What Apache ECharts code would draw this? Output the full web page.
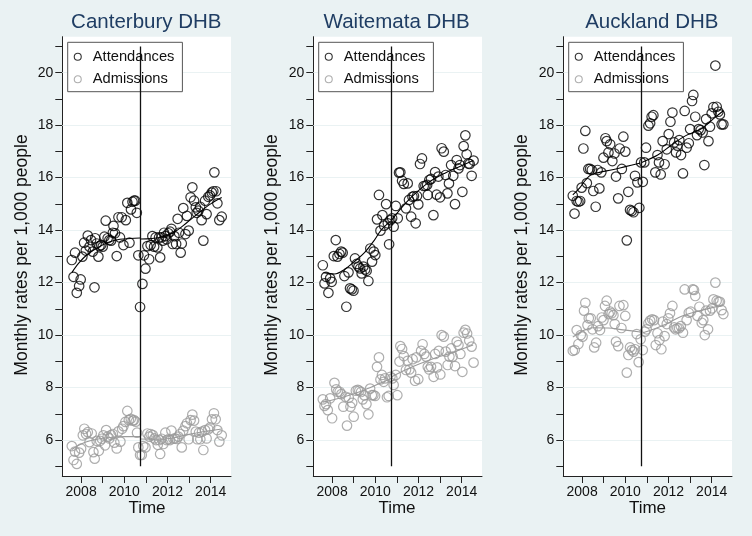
<!DOCTYPE html>
<html>
<head>
<meta charset="utf-8">
<script src="https://cdn.jsdelivr.net/npm/echarts@6/dist/echarts.min.js"></script>
<style>
html,body{margin:0;padding:0;background:#eaf2f3;}
#chart{width:752px;height:536px;}
</style>
</head>
<body>
<div id="chart"></div>
<script>
// ---------------- data ----------------
const panelTitles = ['Canterbury DHB', 'Waitemata DHB', 'Auckland DHB'];
const seriesNames = ['Attendances', 'Admissions'];
const interventionTime = 2010.75;
const xTickValues = [2008, 2009, 2010, 2011, 2012, 2013, 2014];
const xLabelValues = [2008, 2010, 2012, 2014];
const yTickValues = [5, 6, 7, 8, 9, 10, 11, 12, 13, 14, 15, 16, 17, 18, 19, 20, 21];
const yLabelValues = [6, 8, 10, 12, 14, 16, 18, 20];
const yAxisTitle = 'Monthly rates per 1,000 people';
const xAxisTitle = 'Time';

// Canterbury
const cantAtt = [[2007.57,12.86],[2007.72,13.14],[2007.65,12.22],[2007.80,11.61],[2007.91,11.87],[2007.98,12.12],[2008.06,12.99],[2008.14,13.52],[2008.22,13.22],[2008.31,13.79],[2008.39,13.37],[2008.46,13.62],[2008.54,13.18],[2008.62,11.82],[2008.65,13.69],[2008.72,13.49],[2008.80,12.99],[2008.85,13.39],[2008.93,13.43],[2009.00,13.37],[2009.08,13.75],[2009.14,14.36],[2009.23,13.69],[2009.31,13.62],[2009.39,13.60],[2009.47,13.90],[2009.50,14.16],[2009.57,13.88],[2009.65,13.01],[2009.73,14.49],[2009.80,13.72],[2009.88,14.49],[2009.96,13.43],[2010.07,14.38],[2010.14,15.04],[2010.24,13.52],[2010.31,14.79],[2010.38,15.08],[2010.45,15.12],[2010.51,15.12],[2010.58,14.66],[2010.65,13.04],[2010.73,11.07],[2010.84,11.95],[2010.91,13.04],[2010.98,12.53],[2011.07,13.39],[2011.15,12.89],[2011.22,13.43],[2011.30,13.77],[2011.38,13.37],[2011.45,13.72],[2011.53,13.34],[2011.61,13.72],[2011.66,12.96],[2011.72,13.72],[2011.78,13.60],[2011.84,13.90],[2011.90,13.77],[2011.96,13.65],[2012.04,13.88],[2012.12,13.94],[2012.18,14.05],[2012.24,13.47],[2012.32,13.77],[2012.40,13.47],[2012.47,14.43],[2012.53,13.90],[2012.61,13.14],[2012.66,13.49],[2012.73,14.84],[2012.83,13.85],[2012.90,14.54],[2012.98,13.98],[2013.07,15.25],[2013.15,15.63],[2013.23,15.12],[2013.31,14.87],[2013.35,14.66],[2013.43,14.74],[2013.51,14.89],[2013.58,14.38],[2013.66,13.60],[2013.74,15.12],[2013.81,14.61],[2013.89,15.27],[2013.97,15.32],[2014.05,15.43],[2014.12,15.48],[2014.17,16.20],[2014.25,15.48],[2014.31,15.02],[2014.40,14.38],[2014.51,14.51]];
const cantAdm = [[2007.57,5.77],[2007.65,5.24],[2007.72,5.56],[2007.80,5.09],[2007.91,5.52],[2008.00,5.67],[2008.08,6.18],[2008.15,6.43],[2008.23,6.23],[2008.31,6.30],[2008.39,5.92],[2008.49,6.25],[2008.57,5.54],[2008.63,5.29],[2008.72,5.97],[2008.82,5.59],[2008.88,5.97],[2008.96,6.05],[2009.03,6.18],[2009.11,5.80],[2009.16,6.38],[2009.23,6.13],[2009.31,6.06],[2009.39,6.19],[2009.47,6.23],[2009.54,5.90],[2009.65,5.68],[2009.73,6.33],[2009.82,5.94],[2009.90,6.43],[2009.96,6.53],[2010.05,6.69],[2010.14,7.11],[2010.21,6.76],[2010.30,6.81],[2010.39,6.74],[2010.45,6.76],[2010.53,6.70],[2010.59,6.28],[2010.65,5.72],[2010.73,5.43],[2010.81,5.43],[2010.88,5.77],[2010.98,5.72],[2011.07,6.25],[2011.16,6.13],[2011.22,6.23],[2011.32,6.19],[2011.39,6.06],[2011.47,6.00],[2011.55,5.82],[2011.62,6.00],[2011.66,5.47],[2011.73,6.05],[2011.81,5.85],[2011.90,6.28],[2011.96,6.00],[2012.04,6.03],[2012.12,6.00],[2012.18,6.36],[2012.27,6.05],[2012.35,6.06],[2012.43,6.04],[2012.50,6.13],[2012.58,6.23],[2012.66,5.72],[2012.73,6.36],[2012.83,6.53],[2012.90,6.64],[2012.98,6.03],[2013.07,6.76],[2013.15,6.97],[2013.23,6.74],[2013.31,6.32],[2013.38,6.03],[2013.46,6.28],[2013.52,6.03],[2013.60,6.32],[2013.66,5.62],[2013.74,6.38],[2013.81,6.06],[2013.89,6.41],[2013.97,6.48],[2014.06,6.79],[2014.15,7.02],[2014.23,6.79],[2014.31,6.38],[2014.40,5.94],[2014.51,6.18]];
const cantAttFitPre = [[2007.57,12.38],[2007.9,12.75],[2008.3,13.08],[2008.8,13.35],[2009.3,13.55],[2009.8,13.65],[2010.3,13.68],[2010.73,13.70]];
const cantAttFitPost = [[2010.75,13.66],[2011.66,13.72],[2012.27,13.90],[2012.89,14.28],[2013.51,14.70],[2014.0,15.0],[2014.51,15.24]];
const cantAdmFitPre = [[2007.57,5.64],[2008.0,5.85],[2008.5,5.99],[2009.0,6.07],[2009.5,6.11],[2010.0,6.13],[2010.73,6.13]];
const cantAdmFitPost = [[2010.75,6.04],[2011.5,6.03],[2012.2,6.07],[2012.8,6.18],[2013.5,6.30],[2014.51,6.42]];

// Waitemata
const waitAtt = [[2007.57,12.66],[2007.65,11.97],[2007.72,12.22],[2007.83,11.61],[2007.91,12.16],[2007.98,12.03],[2008.08,13.01],[2008.17,13.62],[2008.25,12.99],[2008.34,13.09],[2008.42,13.18],[2008.49,13.14],[2008.57,12.25],[2008.66,11.08],[2008.76,12.39],[2008.83,11.78],[2008.91,11.74],[2008.99,11.69],[2009.06,12.92],[2009.14,12.71],[2009.22,12.61],[2009.30,12.54],[2009.37,12.35],[2009.45,12.61],[2009.53,12.50],[2009.60,12.45],[2009.68,12.06],[2009.77,13.30],[2009.85,12.80],[2009.93,13.18],[2010.00,13.05],[2010.08,14.41],[2010.17,15.34],[2010.24,13.98],[2010.33,14.57],[2010.41,14.17],[2010.50,14.99],[2010.58,14.26],[2010.64,13.46],[2010.70,14.38],[2010.78,14.45],[2010.85,14.13],[2010.95,14.92],[2011.04,14.45],[2011.10,16.19],[2011.16,16.20],[2011.24,15.88],[2011.32,15.76],[2011.42,14.83],[2011.50,15.78],[2011.56,15.15],[2011.66,14.51],[2011.72,15.27],[2011.79,15.30],[2011.87,14.26],[2011.93,15.30],[2011.99,14.98],[2012.07,16.52],[2012.16,16.73],[2012.24,15.68],[2012.32,15.69],[2012.40,15.72],[2012.43,15.34],[2012.50,15.91],[2012.58,15.95],[2012.69,14.57],[2012.77,16.21],[2012.84,15.35],[2012.92,16.04],[2013.00,15.25],[2013.07,17.12],[2013.17,16.99],[2013.26,16.10],[2013.34,15.40],[2013.41,15.78],[2013.51,16.48],[2013.61,16.07],[2013.69,14.99],[2013.77,16.67],[2013.85,16.35],[2013.92,16.48],[2014.03,15.46],[2014.09,17.20],[2014.17,17.61],[2014.23,16.89],[2014.31,16.54],[2014.37,16.52],[2014.46,16.07],[2014.55,16.65]];
const waitAdm = [[2007.57,7.55],[2007.65,7.30],[2007.72,7.37],[2007.80,7.14],[2007.91,7.59],[2008.00,6.83],[2008.11,8.18],[2008.19,7.93],[2008.26,7.84],[2008.35,7.84],[2008.43,7.75],[2008.52,7.27],[2008.62,7.65],[2008.69,6.55],[2008.77,7.61],[2008.85,7.27],[2008.93,7.42],[2009.00,6.89],[2009.10,7.88],[2009.19,7.91],[2009.26,7.88],[2009.34,7.83],[2009.42,7.55],[2009.50,7.70],[2009.59,7.37],[2009.68,6.98],[2009.76,7.96],[2009.84,7.71],[2009.91,7.71],[2009.99,7.68],[2010.08,8.79],[2010.17,9.15],[2010.24,8.31],[2010.31,8.48],[2010.39,8.22],[2010.45,8.35],[2010.54,7.63],[2010.62,7.68],[2010.70,8.41],[2010.79,8.35],[2010.85,8.10],[2010.95,8.48],[2011.02,7.71],[2011.12,8.99],[2011.16,9.58],[2011.24,9.47],[2011.32,9.20],[2011.42,8.67],[2011.50,9.02],[2011.58,8.69],[2011.66,8.57],[2011.73,9.08],[2011.84,8.26],[2011.90,9.15],[2011.99,8.32],[2012.12,9.40],[2012.19,9.65],[2012.27,9.28],[2012.36,9.18],[2012.43,8.79],[2012.50,8.69],[2012.58,8.79],[2012.70,8.41],[2012.77,9.28],[2012.86,8.77],[2012.94,9.40],[2013.01,8.50],[2013.07,10.00],[2013.17,9.94],[2013.26,9.37],[2013.35,8.86],[2013.43,9.18],[2013.51,9.49],[2013.58,9.18],[2013.69,8.82],[2013.77,9.75],[2013.85,9.62],[2013.94,9.28],[2014.03,8.60],[2014.09,10.09],[2014.17,10.20],[2014.25,10.06],[2014.35,9.79],[2014.46,9.56],[2014.55,8.95]];
const waitAttFitPre = [[2007.60,12.38],[2008.11,12.33],[2008.57,12.50],[2009.03,12.80],[2009.50,13.14],[2009.96,13.62],[2010.27,14.00],[2010.72,14.35]];
const waitAttFitPost = [[2010.76,14.38],[2011.19,14.83],[2011.66,15.25],[2012.12,15.59],[2012.58,15.88],[2013.20,16.16],[2013.81,16.39],[2014.53,16.65]];
const waitAdmFitPre = [[2007.57,7.44],[2008.57,7.65],[2009.50,7.91],[2010.27,8.18],[2010.72,8.35]];
const waitAdmFitPost = [[2010.76,8.41],[2011.66,8.77],[2012.58,9.07],[2013.51,9.32],[2014.53,9.62]];

// Auckland
const aucAtt = [[2007.57,15.31],[2007.65,14.63],[2007.75,15.11],[2007.83,15.08],[2007.91,15.11],[2007.98,15.62],[2008.06,17.11],[2008.15,17.78],[2008.22,15.79],[2008.29,16.33],[2008.37,16.33],[2008.45,16.29],[2008.52,15.49],[2008.63,14.89],[2008.72,16.29],[2008.80,15.59],[2008.89,16.20],[2008.99,16.76],[2009.08,17.50],[2009.14,17.39],[2009.22,16.96],[2009.30,17.27],[2009.40,16.63],[2009.50,16.92],[2009.57,16.04],[2009.67,15.21],[2009.74,17.11],[2009.84,16.33],[2009.91,17.56],[2010.00,16.99],[2010.07,13.61],[2010.14,15.46],[2010.22,14.77],[2010.30,14.73],[2010.38,14.68],[2010.45,16.07],[2010.56,15.82],[2010.65,14.85],[2010.73,16.58],[2010.81,15.84],[2010.88,16.58],[2010.96,17.14],[2011.07,17.98],[2011.15,18.07],[2011.22,18.32],[2011.30,18.38],[2011.39,16.20],[2011.49,16.86],[2011.56,16.58],[2011.64,16.12],[2011.73,17.39],[2011.82,16.51],[2011.92,17.08],[2012.01,17.66],[2012.09,18.13],[2012.18,18.48],[2012.26,17.34],[2012.35,16.96],[2012.41,17.22],[2012.50,17.43],[2012.58,16.86],[2012.67,16.16],[2012.75,18.54],[2012.84,17.14],[2012.94,17.31],[2013.00,17.85],[2013.09,18.92],[2013.15,19.15],[2013.24,18.32],[2013.32,17.62],[2013.40,17.85],[2013.49,17.81],[2013.58,17.72],[2013.66,16.48],[2013.74,18.23],[2013.85,17.39],[2013.92,17.94],[2014.00,18.45],[2014.08,18.69],[2014.17,20.27],[2014.23,18.70],[2014.31,18.51],[2014.38,18.41],[2014.46,18.03],[2014.54,18.03]];
const aucAdm = [[2007.57,9.40],[2007.66,9.43],[2007.75,10.19],[2007.83,9.66],[2007.94,10.00],[2008.02,9.94],[2008.09,10.93],[2008.15,11.23],[2008.25,10.38],[2008.31,10.64],[2008.40,10.64],[2008.48,10.22],[2008.56,9.53],[2008.65,9.71],[2008.74,10.34],[2008.83,10.19],[2008.91,10.67],[2008.99,10.57],[2009.06,11.11],[2009.14,11.31],[2009.23,10.80],[2009.30,10.89],[2009.37,10.83],[2009.45,10.76],[2009.51,10.42],[2009.57,9.75],[2009.67,9.58],[2009.73,11.11],[2009.82,10.27],[2009.91,11.14],[2010.00,10.73],[2010.07,8.57],[2010.14,9.24],[2010.22,9.53],[2010.30,9.43],[2010.38,9.37],[2010.45,9.46],[2010.53,10.04],[2010.62,8.97],[2010.71,9.84],[2010.81,9.43],[2010.91,10.13],[2010.99,10.22],[2011.07,10.45],[2011.15,10.55],[2011.24,10.60],[2011.33,10.57],[2011.41,9.62],[2011.49,10.07],[2011.58,9.81],[2011.67,9.46],[2011.73,10.51],[2011.82,9.96],[2011.92,10.42],[2011.99,10.64],[2012.07,10.83],[2012.18,11.11],[2012.26,10.29],[2012.33,10.22],[2012.41,10.26],[2012.49,10.26],[2012.57,10.34],[2012.67,10.09],[2012.75,11.74],[2012.84,10.57],[2012.94,10.85],[2013.03,10.89],[2013.12,11.74],[2013.18,11.72],[2013.24,11.49],[2013.34,10.73],[2013.43,11.08],[2013.54,10.47],[2013.61,10.57],[2013.68,10.00],[2013.74,10.93],[2013.83,10.22],[2013.92,10.93],[2014.02,11.02],[2014.08,11.36],[2014.17,12.00],[2014.23,11.31],[2014.32,11.27],[2014.38,11.27],[2014.46,10.95],[2014.54,10.80]];
const aucAttFitPre = [[2007.57,15.34],[2007.9,15.62],[2008.15,15.90],[2008.4,16.10],[2008.8,16.20],[2009.4,16.30],[2010.0,16.42],[2010.7,16.56]];
const aucAttFitPost = [[2010.76,16.58],[2011.5,16.86],[2012.2,17.28],[2012.8,17.60],[2013.5,17.85],[2014.1,18.26],[2014.54,18.55]];
const aucAdmFitPre = [[2007.57,9.92],[2008.0,10.15],[2008.5,10.28],[2009.2,10.27],[2009.9,10.20],[2010.7,10.12]];
const aucAdmFitPost = [[2010.76,10.07],[2011.3,10.22],[2011.9,10.42],[2012.5,10.68],[2013.1,10.85],[2013.7,10.98],[2014.54,11.15]];

// ---------------- layout / style ----------------
const FONT = "'Liberation Sans', Arial, Helvetica, sans-serif";
const BG = '#eaf2f3';
const ATT_COLOR = '#000000';
const ADM_COLOR = '#9a9a9a';
const gridLefts = [62.3, 313.3, 563.3];
const titleX = [146.3, 396.7, 651.8];
const timeX = [147, 397, 647.5];
const yNameX = [21.7, 271.7, 521.7];
const GRID_TOP = 36.7, GRID_H = 439.3, GRID_W = 168.7;
const X_MIN = 2007.13, X_MAX = 2014.94, Y_MIN = 4.63, Y_MAX = 21.37;

const panels = [
  {att: cantAtt, adm: cantAdm, attPre: cantAttFitPre, attPost: cantAttFitPost, admPre: cantAdmFitPre, admPost: cantAdmFitPost},
  {att: waitAtt, adm: waitAdm, attPre: waitAttFitPre, attPost: waitAttFitPost, admPre: waitAdmFitPre, admPost: waitAdmFitPost},
  {att: aucAtt, adm: aucAdm, attPre: aucAttFitPre, attPost: aucAttFitPost, admPre: aucAdmFitPre, admPost: aucAdmFitPost}
];

const grid = [], xAxis = [], yAxis = [], series = [], legend = [], graphic = [];
const axisLine = {show: true, onZero: false, lineStyle: {color: '#222', width: 1}};
const axisLabelStyle = {color: '#111', fontSize: 14, fontFamily: FONT};

panels.forEach((p, i) => {
  grid.push({left: gridLefts[i], top: GRID_TOP, width: GRID_W, height: GRID_H,
    show: true, backgroundColor: '#ffffff', borderWidth: 0, containLabel: false, outerBoundsMode: 'none'});
  xAxis.push({type: 'value', gridIndex: i, min: X_MIN, max: X_MAX,
    axisLine: axisLine,
    axisTick: {show: true, inside: false, length: 7, lineStyle: {color: '#222', width: 1}, customValues: xTickValues},
    axisLabel: Object.assign({show: true, margin: 9, customValues: xLabelValues, formatter: v => String(Math.round(v))}, axisLabelStyle),
    splitLine: {show: false}, minorTick: {show: false}});
  yAxis.push({type: 'value', gridIndex: i, min: Y_MIN, max: Y_MAX,
    axisLine: axisLine,
    axisTick: {show: true, inside: false, length: 7, lineStyle: {color: '#222', width: 1}, customValues: yTickValues},
    axisLabel: Object.assign({show: true, margin: 9, customValues: yLabelValues, formatter: v => String(Math.round(v))}, axisLabelStyle),
    splitLine: {show: false}, minorTick: {show: false}});

  // Admissions scatter (carries the horizontal grid lines)
  series.push({name: seriesNames[1], type: 'scatter', xAxisIndex: i, yAxisIndex: i,
    data: p.adm, symbol: 'circle', symbolSize: 9.5, z: 2, silent: true,
    itemStyle: {color: 'rgba(0,0,0,0)', borderColor: ADM_COLOR, borderWidth: 1.2},
    emphasis: {disabled: true},
    markLine: {silent: true, symbol: ['none', 'none'], z: 1, animation: false,
      label: {show: false},
      lineStyle: {color: BG, width: 1.2, type: 'solid'},
      emphasis: {disabled: true},
      data: yLabelValues.map(v => ({yAxis: v}))}
  });
  // Attendances scatter (carries the intervention line)
  series.push({name: seriesNames[0], type: 'scatter', xAxisIndex: i, yAxisIndex: i,
    data: p.att, symbol: 'circle', symbolSize: 9.5, z: 2, silent: true,
    itemStyle: {color: 'rgba(0,0,0,0)', borderColor: ATT_COLOR, borderWidth: 1.2},
    emphasis: {disabled: true},
    markLine: {silent: true, symbol: ['none', 'none'], z: 4, animation: false,
      label: {show: false},
      lineStyle: {color: '#111', width: 1.3, type: 'solid'},
      emphasis: {disabled: true},
      data: [[{coord: [interventionTime, 5]}, {coord: [interventionTime, 21]}]]}
  });
  const fit = (name, data, color) => ({name, type: 'line', xAxisIndex: i, yAxisIndex: i, data,
    smooth: 0.35, showSymbol: false, symbol: 'none', z: 3, silent: true,
    lineStyle: {color, width: 1.1}, emphasis: {disabled: true}});
  series.push(fit('admFitPre' + i, p.admPre, ADM_COLOR));
  series.push(fit('admFitPost' + i, p.admPost, ADM_COLOR));
  series.push(fit('attFitPre' + i, p.attPre, ATT_COLOR));
  series.push(fit('attFitPost' + i, p.attPost, ATT_COLOR));

  legend.push({show: true, orient: 'vertical', left: gridLefts[i] + 5.4, top: 42.3,
    selectedMode: false, backgroundColor: '#ffffff', borderColor: '#555', borderWidth: 1,
    borderRadius: 0, padding: [6.4, 8, 4.4, 6], itemGap: 6.6, itemWidth: 20, itemHeight: 7,
    icon: 'circle',
    textStyle: {color: '#111', fontSize: 14.7, fontFamily: FONT, lineHeight: 16},
    data: [
      {name: seriesNames[0], itemStyle: {color: 'rgba(0,0,0,0)', borderColor: ATT_COLOR, borderWidth: 1.1}},
      {name: seriesNames[1], itemStyle: {color: 'rgba(0,0,0,0)', borderColor: ADM_COLOR, borderWidth: 1.1}}
    ]});

  graphic.push({type: 'text', x: titleX[i], y: 22.7, silent: true,
    style: {text: panelTitles[i], fill: '#1f3d63', font: '20.5px ' + FONT, textAlign: 'center', textVerticalAlign: 'middle'}});
  graphic.push({type: 'text', x: timeX[i], y: 508.3, silent: true,
    style: {text: xAxisTitle, fill: '#111', font: '17px ' + FONT, textAlign: 'center', textVerticalAlign: 'middle'}});
  graphic.push({type: 'text', x: yNameX[i], y: 255, rotation: Math.PI / 2, silent: true,
    style: {text: yAxisTitle, fill: '#111', font: '17.5px ' + FONT, textAlign: 'center', textVerticalAlign: 'middle'}});
});

const chart = echarts.init(document.getElementById('chart'), null, {renderer: 'canvas'});
chart.setOption({
  backgroundColor: BG,
  animation: false,
  textStyle: {fontFamily: FONT},
  tooltip: {show: false},
  grid, xAxis, yAxis, series, legend, graphic
});
</script>
</body>
</html>
